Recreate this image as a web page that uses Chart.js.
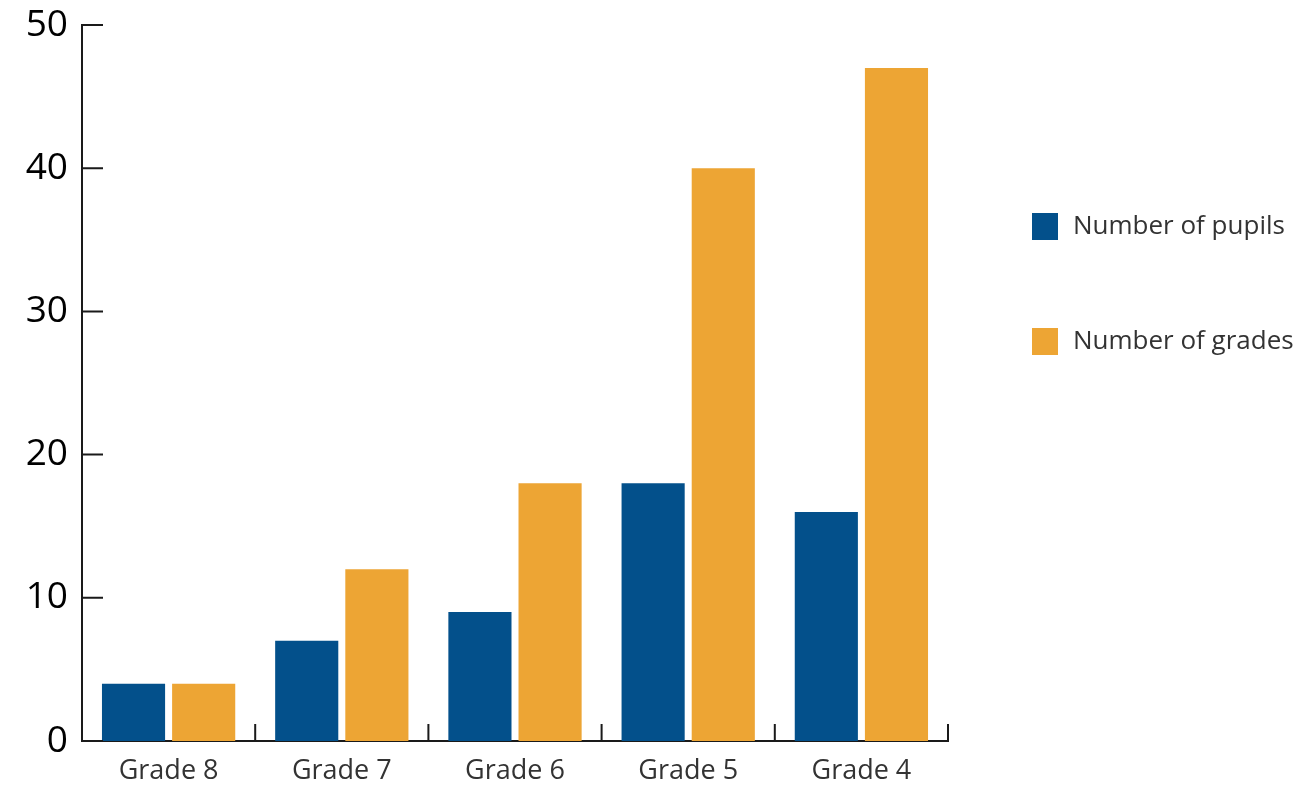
<!DOCTYPE html>
<html>
<head>
<meta charset="utf-8">
<script src="https://cdn.jsdelivr.net/npm/chart.js@4"></script>
<style>
  body { margin: 0; background: #fff; }
  #wrap { position: relative; width: 1309px; height: 787px; }
  .legend { position: absolute; left: 1032px; top: 0; font-family: "Open Sans", sans-serif; font-size: 26px; color: #333; }
  .legend span.box { position: absolute; left: 0; width: 26px; height: 27px; }
  .legend span.txt { position: absolute; left: 41px; top: -2px; white-space: nowrap; line-height: 27px; }
</style>
</head>
<body>
<div id="wrap">
  <canvas id="myChart"></canvas>
  <div class="legend" id="leg"></div>
</div>
<script>
var grades = ["Grade 8", "Grade 7", "Grade 6", "Grade 5", "Grade 4"];
var pupils = [4, 7, 9, 18, 16];
var gradeCounts = [4, 12, 18, 40, 47];
var yTicks = [0, 10, 20, 30, 40, 50];

var blue = "#03508b";
var orange = "#eda534";
var axisColor = "#1a1a1a";

// draw the inward ticks by hand, chart.js only draws them outwards
var tickPlugin = {
    id: "innerTicks",
    afterDraw: function (chart) {
        var ctx = chart.ctx;
        var x = chart.scales.x;
        var y = chart.scales.y;
        var left = chart.chartArea.left;
        var bottom = chart.chartArea.bottom;
        ctx.save();
        ctx.strokeStyle = axisColor;
        ctx.lineWidth = 2;
        ctx.beginPath();
        yTicks.forEach(function (v) {
            var py = y.getPixelForValue(v);
            ctx.moveTo(left, py);
            ctx.lineTo(left + 21, py);
        });
        for (var i = 0; i < grades.length; i++) {
            var px = x.getPixelForValue(i + 0.5);
            ctx.moveTo(px, bottom);
            ctx.lineTo(px, bottom - 17);
        }
        ctx.stroke();
        ctx.restore();
    }
};

new Chart("myChart", {
    type: "bar",
    data: {
        labels: grades,
        datasets: [
            { label: "Number of pupils", data: pupils, backgroundColor: blue },
            { label: "Number of grades", data: gradeCounts, backgroundColor: orange }
        ]
    },
    options: {
        responsive: true,
        maintainAspectRatio: false,
        animation: false,
        layout: { padding: { left: 0, top: 25, right: 361, bottom: 0 } },
        datasets: { bar: { categoryPercentage: 0.81, barPercentage: 0.9 } },
        plugins: {
            legend: { display: false },
            tooltip: { enabled: false }
        },
        scales: {
            x: {
                grid: { display: false, drawTicks: false },
                border: { color: axisColor, width: 2 },
                ticks: { color: "#333", padding: 14, font: { family: "Open Sans", size: 27 } },
                afterFit: function (s) { s.height = 46; s.paddingLeft = 0; s.paddingRight = 0; }
            },
            y: {
                min: 0,
                max: 50,
                grid: { display: false, drawTicks: false },
                border: { color: axisColor, width: 2 },
                ticks: { stepSize: 10, color: "#000", padding: 14, font: { family: "Open Sans", size: 37 } },
                afterFit: function (s) { s.width = 82; s.paddingTop = 0; s.paddingBottom = 0; }
            }
        }
    },
    plugins: [tickPlugin]
});

// legend on the right
var legendItems = [["Number of pupils", blue, 213], ["Number of grades", orange, 328]];
var leg = document.getElementById("leg");
legendItems.forEach(function (it) {
    var row = document.createElement("div");
    row.style.position = "absolute";
    row.style.top = it[2] + "px";
    row.innerHTML = '<span class="box" style="background:' + it[1] + '"></span><span class="txt">' + it[0] + '</span>';
    leg.appendChild(row);
});
</script>
</body>
</html>
